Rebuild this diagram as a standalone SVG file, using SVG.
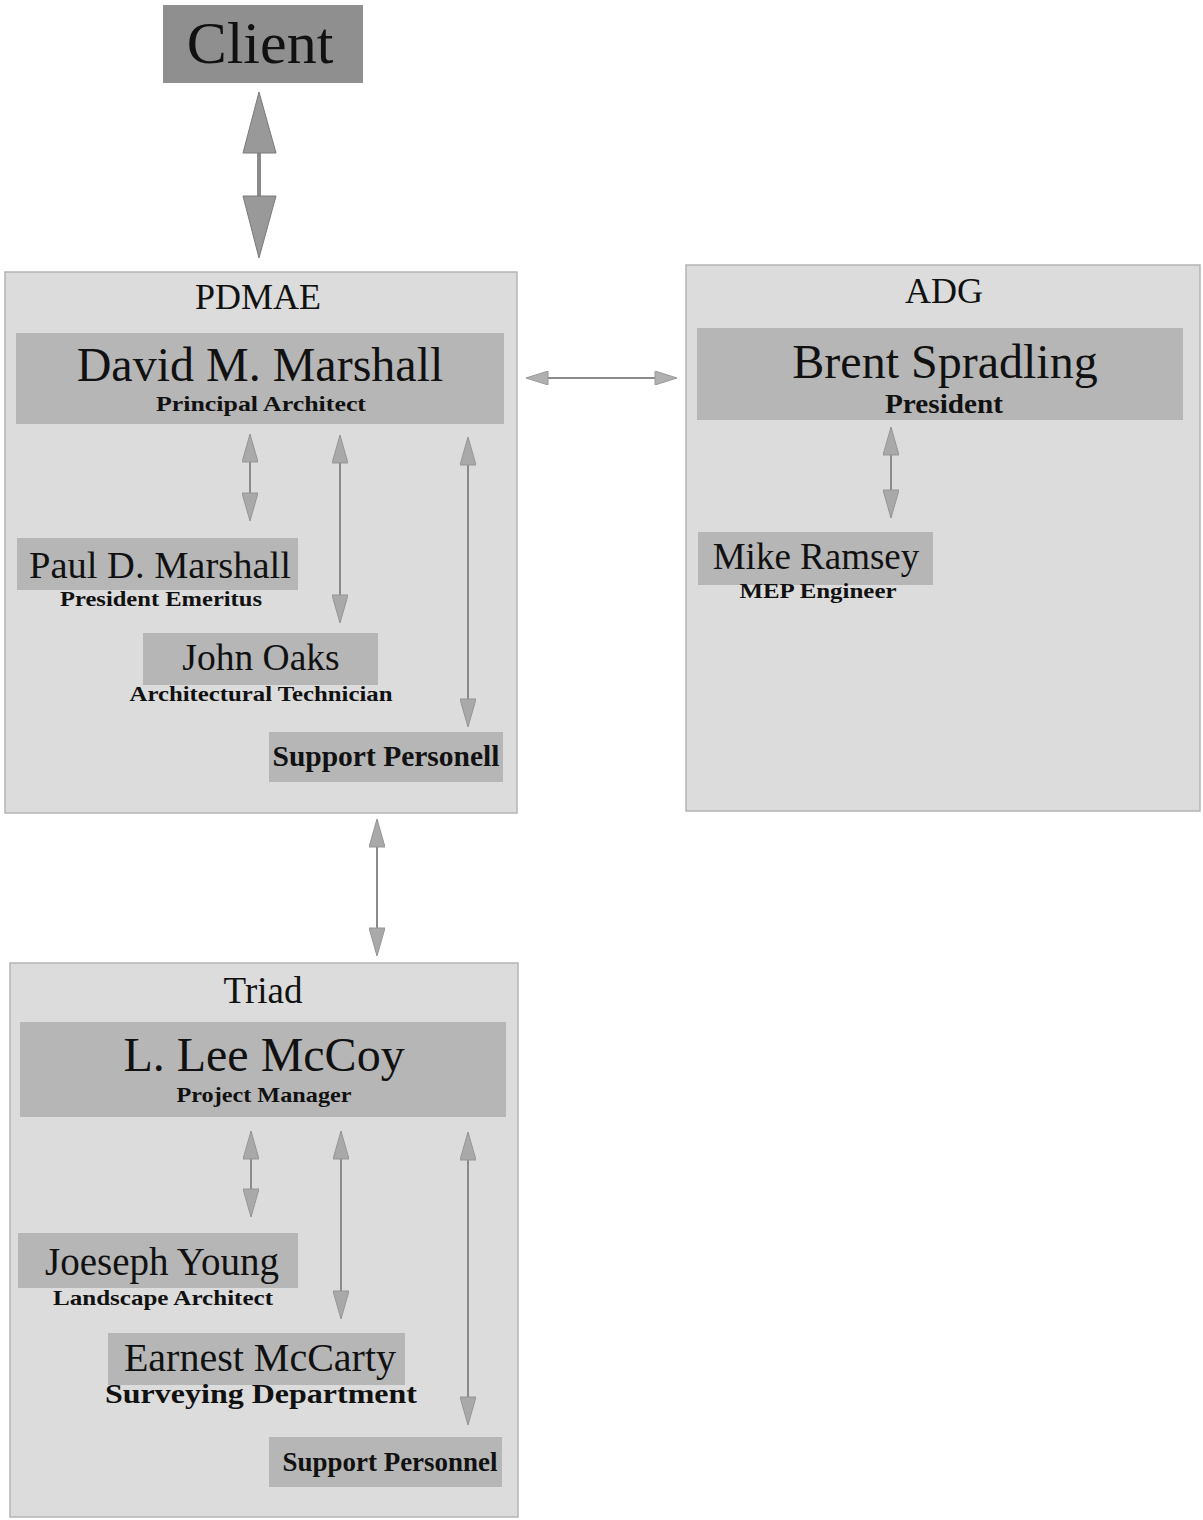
<svg xmlns="http://www.w3.org/2000/svg" width="1203" height="1520" viewBox="0 0 1203 1520">
<style>
.grp{fill:#dcdcdc;stroke:#b4b4b4;stroke-width:1.5}
.bar{fill:#b6b6b6}
.t{font-family:"Liberation Serif","Times New Roman",serif;fill:#111;text-anchor:middle}
.title{font-size:36px}
.name{font-size:48px}
.name2{font-size:37px}
.sub{font-size:22px;font-weight:bold}
.conn{stroke:#8a8a8a;stroke-width:2;fill:none}
</style>
<defs>
<marker id="ah" markerUnits="userSpaceOnUse" markerWidth="30" markerHeight="16" viewBox="0 0 28 16" refX="27" refY="8" orient="auto-start-reverse">
<path d="M0,0 L28,8 L0,16 z" fill="#a9a9a9" stroke="#959595" stroke-width="1"/>
</marker>
<marker id="ahs" markerUnits="userSpaceOnUse" markerWidth="24" markerHeight="14" viewBox="0 0 22 14" refX="21" refY="7" orient="auto-start-reverse">
<path d="M0,0 L22,7 L0,14 z" fill="#b0b0b0" stroke="#9a9a9a" stroke-width="1"/>
</marker>
</defs>
<rect width="1203" height="1520" fill="#ffffff"/>

<g id="client">
<rect x="163" y="5" width="200" height="78" fill="#8f8f8f"/>
<text class="t" x="260" y="63" font-size="60">Client</text>
</g>

<g id="pdmae">
<rect class="grp" x="5" y="272" width="512" height="541"/>
<text class="t title" x="258" y="309">PDMAE</text>
</g>
<g id="david">
<rect class="bar" x="16" y="333" width="488" height="91"/>
<text class="t name" x="260" y="381">David M. Marshall</text>
<text class="t sub" x="261" y="411" textLength="210" lengthAdjust="spacingAndGlyphs">Principal Architect</text>
</g>
<g id="paul">
<rect class="bar" x="17" y="538" width="281" height="52"/>
<text class="t" x="160" y="578" font-size="38.5">Paul D. Marshall</text>
<text class="t sub" x="161" y="606" textLength="202" lengthAdjust="spacingAndGlyphs">President Emeritus</text>
</g>
<g id="john">
<rect class="bar" x="143" y="633" width="235" height="52"/>
<text class="t" x="261" y="670" font-size="37.5">John Oaks</text>
<text class="t sub" x="261" y="701" textLength="263" lengthAdjust="spacingAndGlyphs">Architectural Technician</text>
</g>
<g id="support1">
<rect class="bar" x="269" y="732" width="234" height="50"/>
<text class="t" x="386" y="766" font-size="29" font-weight="bold" textLength="227" lengthAdjust="spacingAndGlyphs">Support Personell</text>
</g>

<g id="adg">
<rect class="grp" x="686" y="265" width="514" height="546"/>
<text class="t title" x="944" y="303">ADG</text>
</g>
<g id="brent">
<rect class="bar" x="697" y="328" width="486" height="92"/>
<text class="t name" x="945" y="378">Brent Spradling</text>
<text class="t" x="944" y="413" font-size="28" font-weight="bold" textLength="118" lengthAdjust="spacingAndGlyphs">President</text>
</g>
<g id="mike">
<rect class="bar" x="698" y="532" width="235" height="53"/>
<text class="t" x="816" y="569" font-size="37">Mike Ramsey</text>
<text class="t sub" x="818" y="598" textLength="157" lengthAdjust="spacingAndGlyphs">MEP Engineer</text>
</g>

<g id="triad">
<rect class="grp" x="10" y="963" width="508" height="554"/>
<text class="t" x="263" y="1003" font-size="37">Triad</text>
</g>
<g id="mccoy">
<rect class="bar" x="20" y="1022" width="486" height="95"/>
<text class="t name" x="264" y="1071">L. Lee McCoy</text>
<text class="t sub" x="264" y="1102" textLength="175" lengthAdjust="spacingAndGlyphs">Project Manager</text>
</g>
<g id="young">
<rect class="bar" x="18" y="1233" width="280" height="55"/>
<text class="t" x="162" y="1275" font-size="39">Joeseph Young</text>
<text class="t sub" x="163" y="1305" textLength="220" lengthAdjust="spacingAndGlyphs">Landscape Architect</text>
</g>
<g id="mccarty">
<rect class="bar" x="108" y="1333" width="297" height="52"/>
<text class="t" x="260" y="1371" font-size="40">Earnest McCarty</text>
<text class="t" x="261" y="1403" font-size="28" font-weight="bold" textLength="312" lengthAdjust="spacingAndGlyphs">Surveying Department</text>
</g>
<g id="support2">
<rect class="bar" x="269" y="1437" width="233" height="50"/>
<text class="t" x="390" y="1471" font-size="27" font-weight="bold" textLength="215" lengthAdjust="spacingAndGlyphs">Support Personnel</text>
</g>

<g id="connectors">
<g id="client-pdmae">
<rect x="257" y="150" width="4" height="50" fill="#8a8a8a"/>
<polygon points="259,92 243,153 276,153" fill="#999999" stroke="#7a7a7a" stroke-width="1"/>
<polygon points="243,196 276,196 259,258" fill="#999999" stroke="#7a7a7a" stroke-width="1"/>
</g>
<line class="conn" x1="527" y1="378" x2="676" y2="378" marker-start="url(#ahs)" marker-end="url(#ahs)"/>
<line class="conn" x1="250" y1="435" x2="250" y2="520" marker-start="url(#ah)" marker-end="url(#ah)"/>
<line class="conn" x1="340" y1="436" x2="340" y2="622" marker-start="url(#ah)" marker-end="url(#ah)"/>
<line class="conn" x1="468" y1="438" x2="468" y2="726" marker-start="url(#ah)" marker-end="url(#ah)"/>
<line class="conn" x1="891" y1="428" x2="891" y2="517" marker-start="url(#ah)" marker-end="url(#ah)"/>
<line class="conn" x1="377" y1="820" x2="377" y2="955" marker-start="url(#ah)" marker-end="url(#ah)"/>
<line class="conn" x1="251" y1="1132" x2="251" y2="1216" marker-start="url(#ah)" marker-end="url(#ah)"/>
<line class="conn" x1="341" y1="1132" x2="341" y2="1318" marker-start="url(#ah)" marker-end="url(#ah)"/>
<line class="conn" x1="468" y1="1133" x2="468" y2="1424" marker-start="url(#ah)" marker-end="url(#ah)"/>
</g>
</svg>
